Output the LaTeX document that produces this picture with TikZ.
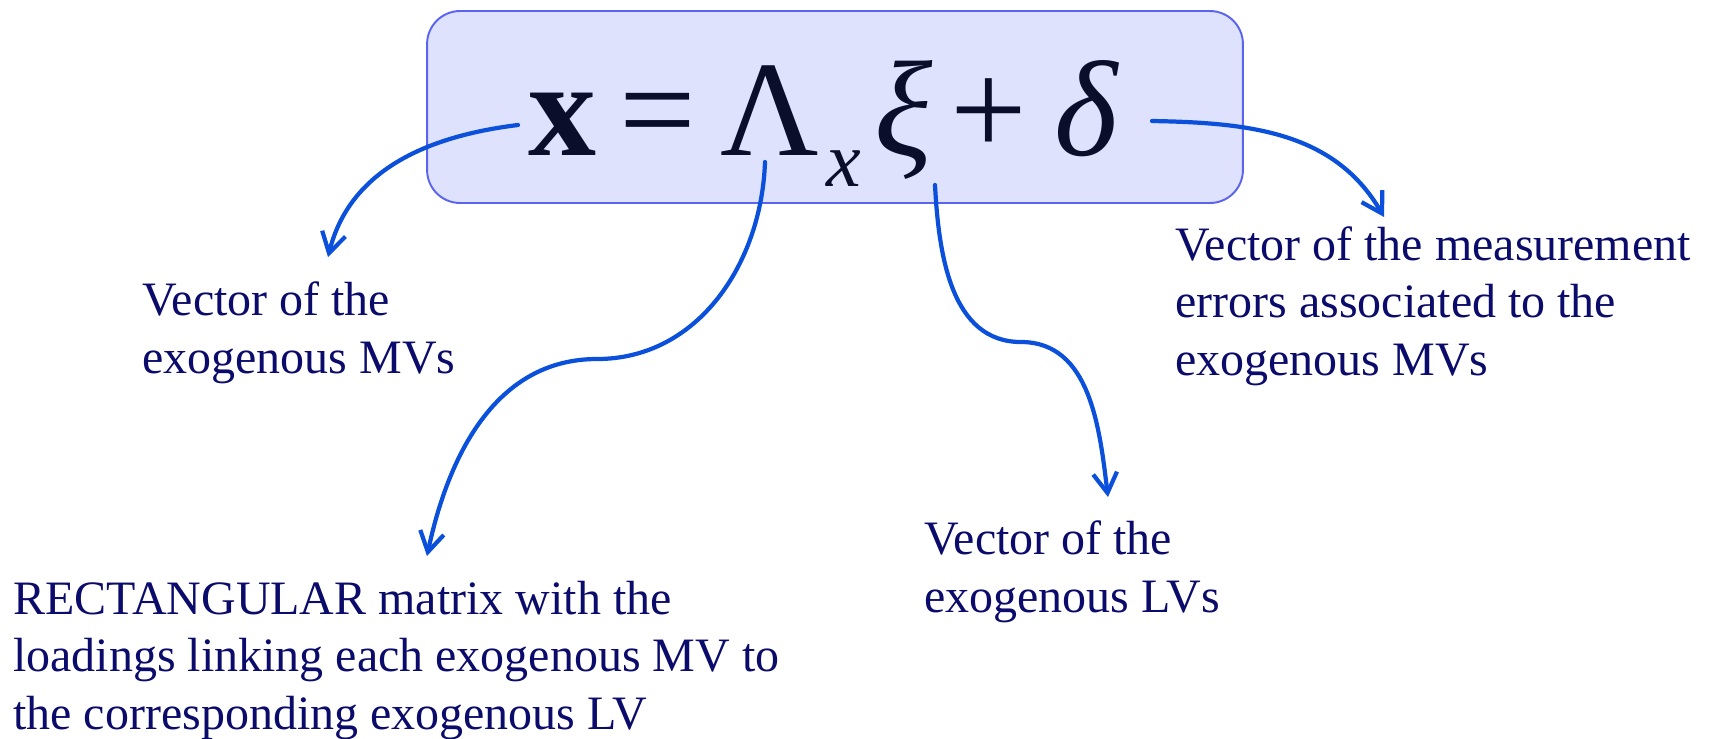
\documentclass[tikz,border=0pt]{standalone}
\usepackage{fontspec}
\setmainfont{Liberation Serif}
\usepackage{xcolor}
\usepackage{tikz}
\usetikzlibrary{arrows.meta}
\definecolor{lavender}{HTML}{DFE2FD}
\definecolor{periwinkle}{HTML}{5A64F0}
\definecolor{ink}{HTML}{0A0E2A}
\definecolor{deepnavy}{HTML}{0B0B6B}
\definecolor{royal}{HTML}{0A50DA}

\begin{document}
\begin{tikzpicture}[x=0.02cm, y=0.02cm,
    eqbox/.style={rectangle, draw=periwinkle, fill=lavender, line width=1.1pt, rounded corners=0.66cm, minimum width=16.32cm, minimum height=3.84cm, inner sep=0pt},
    eqtext/.style={anchor=base west, inner sep=0pt, text=ink, font=\fontsize{77.4pt}{80pt}\selectfont},
    note/.style={anchor=base west, inner sep=0pt, align=left, text=deepnavy, font=\fontsize{27.3pt}{32.7pt}\selectfont},
    pointer/.style={-{Straight Barb[length=0.4cm, width=0.48cm]}, line width=2.4pt, royal, line cap=round}]
    \useasboundingbox (0,0) rectangle (1709,-738);
    \node[eqbox] (eq) at (835,-107) {};
    \node[eqtext] (mdl) at (528,-155) {\textbf{x}\hspace{0.17em}=\hspace{0.18em}Λ\hspace{0.05em}\raisebox{-0.235em}{\fontsize{44.4pt}{44pt}\selectfont\itshape x}\hspace{0.1em}\textit{ξ}\hspace{0.13em}+\hspace{0.2em}\textit{δ}};
    % texts: anchored at the baseline of their last line
    \node[note] (mv) at (142,-373) {Vector of the\\exogenous MVs};
    \node[note] (load) at (13,-729) {RECTANGULAR matrix with the\\loadings linking each exogenous MV to\\the corresponding exogenous LV};
    \node[note] (lv) at (924,-612) {Vector of the\\exogenous LVs};
    \node[note] (err) at (1175,-375) {Vector of the measurement\\errors associated to the\\exogenous MVs};
    % arrow ends
    \coordinate (a1) at (518,-125);
    \coordinate (b1) at (328,-257);
    \coordinate (a2) at (765,-162);
    \coordinate (m2) at (597,-359);
    \coordinate (b2) at (427,-556);
    \coordinate (a3) at (935,-185);
    \coordinate (m3) at (1021,-342);
    \coordinate (b3) at (1108,-497);
    \coordinate (a4) at (1152,-121);
    \coordinate (b4) at (1384,-217);
    \draw[pointer] (a1) to[out=187, in=76] (b1);
    \draw[pointer] (a2) to[out=-92, in=0] (m2) to[out=180, in=78] (b2);
    \draw[pointer] (a3) to[out=-87, in=180] (m3) to[out=0, in=97] (b3);
    \draw[pointer] (a4) to[out=-1, in=120] (b4);
\end{tikzpicture}
\end{document}
